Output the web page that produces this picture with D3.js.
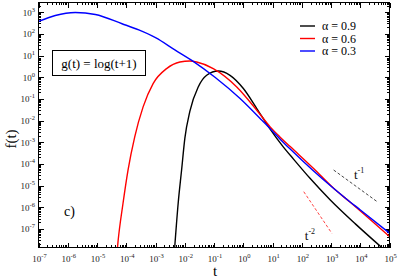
<!DOCTYPE html>
<html>
<head>
<meta charset="utf-8">
<script src="https://cdn.jsdelivr.net/npm/d3@7"></script>
<style>
  body { margin: 0; background: #fff; }
  svg { display: block; }
  svg text { font-family: "Liberation Serif", "DejaVu Serif", "Times New Roman", serif; }
</style>
</head>
<body>
<svg id="chart" width="399" height="278"></svg>
<script>
const WIDTH = 399;
const HEIGHT = 278;
const M = { left: 38.5, right: 9.5, top: 2.5, bottom: 30.5 };
const FONT = "'Liberation Serif', 'DejaVu Serif', serif";

// curves (t, f(t))
const BLACK_T = [4.45e-3, 5.96e-3, 7.8e-3, 1.01e-2, 1.5e-2, 2.89e-2, 5.61e-2, 0.14, 0.353, 1.01, 2.9, 8.3, 23.7, 52.2, 195, 946, 6810, 5.6e4];
const BLACK_F = [1e-8, 1.52e-6, 5.19e-5, 1.54e-3, 2.69e-2, 0.353, 1.22, 1.92, 1.22, 0.299, 3.58e-2, 4.0e-3, 5.93e-4, 1.66e-4, 2.1e-5, 2.16e-6, 1.7e-7, 1.33e-8];

const RED_T = [4.9e-5, 5.24e-5, 7.76e-5, 1.15e-4, 1.95e-4, 3.77e-4, 8.28e-4, 2.39e-3, 6.82e-3, 1.5e-2, 2.55e-2, 9.44e-2, 0.6, 2.9, 8.3, 18.3, 40.3, 254, 1227, 3540, 1.01e4, 1e5];
const RED_F = [1e-8, 2.6e-8, 1.52e-6, 5.19e-5, 1.77e-3, 4.25e-2, 0.507, 2.48, 5.0, 5.56, 5.0, 2.48, 0.353, 2.99e-2, 5.09e-3, 1.71e-3, 6.25e-4, 6.08e-5, 7.46e-6, 2.23e-6, 6.73e-7, 4.42e-8];

const BLUE_T = [1e-7, 3.74e-7, 1.81e-6, 8.79e-6, 7.18e-5, 2.68e-4, 1e-3, 4.59e-3, 1.95e-2, 0.108, 0.778, 3.77, 8.3, 18.3, 40.3, 254, 1081, 3540, 1.01e4, 1e5];
const BLUE_F = [373, 705, 968, 783, 292, 151, 66.3, 18.2, 5.38, 0.99, 0.103, 1.24e-2, 4.22e-3, 1.38e-3, 4.8e-4, 4.67e-5, 8.55e-6, 2.28e-6, 7.48e-7, 6.34e-8];

// power-law guides
const GUIDE1_T = [1230, 3.78e4];
const GUIDE1_F = [5.2e-5, 1.8e-6];
const GUIDE2_T = [117, 1070];
const GUIDE2_F = [5.2e-6, 6.2e-8];

const SERIES = [
  { name: "α = 0.9", color: "#000000", t: BLACK_T, f: BLACK_F },
  { name: "α = 0.6", color: "#ff0000", t: RED_T, f: RED_F },
  { name: "α = 0.3", color: "#0000ff", t: BLUE_T, f: BLUE_F }
];

const X_EXP = [-7, -6, -5, -4, -3, -2, -1, 0, 1, 2, 3, 4, 5];
const Y_EXP = [-7, -6, -5, -4, -3, -2, -1, 0, 1, 2, 3];

const svg = d3.select("#chart");

const x = d3.scaleLog()
  .domain([1e-7, 1e5])
  .range([M.left, WIDTH - M.right]);
const y = d3.scaleLog()
  .domain([Math.pow(10, -7.86), Math.pow(10, 3.446)])
  .range([HEIGHT - M.bottom, M.top]);

const x0 = M.left, x1 = WIDTH - M.right;
const y0 = M.top, y1 = HEIGHT - M.bottom;

svg.append("defs").append("clipPath").attr("id", "plot-clip")
  .append("rect")
  .attr("x", x0).attr("y", y0)
  .attr("width", x1 - x0).attr("height", y1 - y0);

// ticks (inward, on all four sides)
const tickLayer = svg.append("g").attr("stroke", "#000").attr("stroke-width", 1).attr("shape-rendering", "crispEdges");

function decadeTicks(domain) {
  const [lo, hi] = domain;
  const out = [];
  for (let e = Math.floor(Math.log10(lo)); e <= Math.ceil(Math.log10(hi)); e++) {
    for (let m = 1; m <= 9; m++) {
      const v = m * Math.pow(10, e);
      if (v >= lo * 0.999 && v <= hi * 1.001) out.push({ v, major: m === 1 });
    }
  }
  return out;
}

decadeTicks(x.domain()).forEach((d) => {
  const px = Math.round(x(d.v)) + 0.5;
  const len = d.major ? 5 : 2.5;
  tickLayer.append("line").attr("x1", px).attr("x2", px).attr("y1", y1).attr("y2", y1 - len);
  tickLayer.append("line").attr("x1", px).attr("x2", px).attr("y1", y0).attr("y2", y0 + len);
});

decadeTicks(y.domain()).forEach((d) => {
  const py = Math.round(y(d.v)) + 0.5;
  const len = d.major ? 5 : 2.5;
  tickLayer.append("line").attr("y1", py).attr("y2", py).attr("x1", x0).attr("x2", x0 + len);
  tickLayer.append("line").attr("y1", py).attr("y2", py).attr("x1", x1).attr("x2", x1 - len);
});

// tick labels
function powerLabel(sel, exp) {
  sel.append("tspan").attr("font-size", 9).text("10");
  sel.append("tspan").attr("font-size", 6.5).attr("dy", -4).text(exp);
}

X_EXP.forEach((e) => {
  const t = svg.append("text")
    .attr("x", x(Math.pow(10, e)) + 1)
    .attr("y", 262)
    .attr("text-anchor", "middle")
    .attr("font-family", FONT)
    .attr("fill", "#222");
  powerLabel(t, e);
});

Y_EXP.forEach((e) => {
  const t = svg.append("text")
    .attr("x", 35)
    .attr("y", y(Math.pow(10, e)) + 3.5)
    .attr("text-anchor", "end")
    .attr("font-family", FONT)
    .attr("fill", "#222");
  powerLabel(t, e);
});

// axis titles
svg.append("text")
  .attr("transform", `translate(16,${(y0 + y1) / 2 + 14}) rotate(-90)`)
  .attr("text-anchor", "middle")
  .attr("font-family", FONT)
  .attr("font-size", 15)
  .text("f(t)");

svg.append("text")
  .attr("x", (x0 + x1) / 2 + 1)
  .attr("y", 276)
  .attr("text-anchor", "middle")
  .attr("font-family", FONT)
  .attr("font-size", 15)
  .text("t");

// curves
const plot = svg.append("g").attr("clip-path", "url(#plot-clip)");

const line = d3.line()
  .x((d) => x(d[0]))
  .y((d) => y(d[1]))
  .curve(d3.curveMonotoneX);

SERIES.forEach((s) => {
  plot.append("path")
    .datum(s.t.map((t, i) => [t, s.f[i]]))
    .attr("fill", "none")
    .attr("stroke", s.color)
    .attr("stroke-width", 1.4)
    .attr("d", line);
});

plot.append("path")
  .datum(GUIDE1_T.map((t, i) => [t, GUIDE1_F[i]]))
  .attr("fill", "none")
  .attr("stroke", "#333")
  .attr("stroke-width", 0.9)
  .attr("stroke-dasharray", "3,2")
  .attr("d", d3.line().x((d) => x(d[0])).y((d) => y(d[1])));

plot.append("path")
  .datum(GUIDE2_T.map((t, i) => [t, GUIDE2_F[i]]))
  .attr("fill", "none")
  .attr("stroke", "#ff3030")
  .attr("stroke-width", 0.9)
  .attr("stroke-dasharray", "3,2")
  .attr("d", d3.line().x((d) => x(d[0])).y((d) => y(d[1])));

function guideLabel(px, py, exp) {
  const t = svg.append("text").attr("x", px).attr("y", py).attr("font-family", FONT).attr("fill", "#111");
  t.append("tspan").attr("font-size", 13).text("t");
  t.append("tspan").attr("font-size", 8).attr("dy", -6).text(exp);
}
guideLabel(x(3000) + 9, y(5e-5) + 9, "-1");
guideLabel(x(100) + 3, y(4e-8) + 3, "-2");

// frame
svg.append("rect")
  .attr("x", x0).attr("y", y0)
  .attr("width", x1 - x0).attr("height", y1 - y0)
  .attr("fill", "none")
  .attr("stroke", "#000")
  .attr("stroke-width", 1)
  .attr("shape-rendering", "crispEdges");

// legend
const legend = svg.append("g").attr("transform", "translate(300,26)");
SERIES.forEach((s, i) => {
  const g = legend.append("g").attr("transform", `translate(0,${i * 12.5})`);
  g.append("line")
    .attr("x1", 0).attr("x2", 15)
    .attr("stroke", s.color)
    .attr("stroke-width", 1.4);
  g.append("text")
    .attr("x", 22)
    .attr("y", 4)
    .attr("font-family", FONT)
    .attr("font-size", 12)
    .text(s.name);
});

// annotation box
svg.append("rect")
  .attr("x", 52.5).attr("y", 50.5)
  .attr("width", 93).attr("height", 25)
  .attr("fill", "#fff")
  .attr("stroke", "#000")
  .attr("stroke-width", 1);
svg.append("text")
  .attr("x", 99)
  .attr("y", 67.5)
  .attr("text-anchor", "middle")
  .attr("font-family", FONT)
  .attr("font-size", 13)
  .text("g(t) = log(t+1)");

svg.append("text")
  .attr("x", 64)
  .attr("y", 216)
  .attr("font-family", FONT)
  .attr("font-size", 14)
  .text("c)");
</script>
</body>
</html>
